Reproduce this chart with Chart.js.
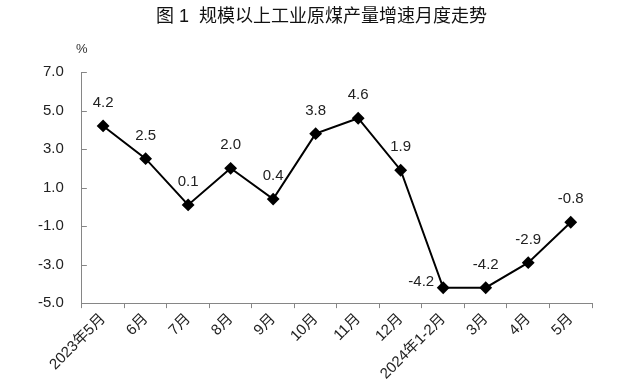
<!DOCTYPE html>
<html>
<head>
<meta charset="utf-8">
<script src="https://cdn.jsdelivr.net/npm/chart.js@4.4.0/dist/chart.umd.min.js"></script>
<style>
  html, body { margin: 0; padding: 0; background: #fff; }
  #wrap { position: relative; width: 643px; height: 385px; }
</style>
</head>
<body>
<div id="wrap"><canvas id="coalChart" width="643" height="385"></canvas></div>
<script>
const chartTitle = '图 1  规模以上工业原煤产量增速月度走势';
const unitLabel = '%';
const months = ['2023年5月', '6月', '7月', '8月', '9月', '10月', '11月', '12月', '2024年1-2月', '3月', '4月', '5月'];
const growth = [4.2, 2.5, 0.1, 2.0, 0.4, 3.8, 4.6, 1.9, -4.2, -4.2, -2.9, -0.8];
const yTicks = [-5.0, -3.0, -1.0, 1.0, 3.0, 5.0, 7.0];
// label placed to the left of the point instead of above
const leftLabels = ['2024年1-2月'];

const fontFamily = '"Liberation Sans", "Noto Sans CJK SC", sans-serif';

const extras = {
    id: 'extras',
    afterDraw(chart) {
        const c = chart.ctx;
        const area = chart.chartArea;
        const y = chart.scales.y;
        c.save();
        // title
        c.fillStyle = '#111';
        c.font = '18px ' + fontFamily;
        c.textAlign = 'center';
        c.textBaseline = 'middle';
        c.fillText(chartTitle, chart.width / 2, 17);
        // unit
        c.font = '13px ' + fontFamily;
        c.fillStyle = '#333';
        c.fillText(unitLabel, area.left, 49);
        // inner ticks on y axis
        c.strokeStyle = '#868686';
        c.lineWidth = 1;
        yTicks.forEach(v => {
            const py = Math.round(y.getPixelForValue(v)) + 0.5;
            c.beginPath();
            c.moveTo(area.left, py);
            c.lineTo(area.left + 5, py);
            c.stroke();
        });
        // data labels
        const meta = chart.getDatasetMeta(0);
        c.font = '15px ' + fontFamily;
        c.fillStyle = '#222';
        meta.data.forEach((pt, i) => {
            const txt = growth[i].toFixed(1);
            if (leftLabels.includes(months[i])) {
                c.textAlign = 'right';
                c.fillText(txt, pt.x - 9, pt.y - 6);
            } else {
                c.textAlign = 'center';
                c.fillText(txt, pt.x, pt.y - 23);
            }
        });
        c.restore();
    }
};

new Chart(document.getElementById('coalChart'), {
    type: 'line',
    data: {
        labels: months,
        datasets: [{
            data: growth,
            borderColor: '#000',
            backgroundColor: '#000',
            borderWidth: 2,
            pointStyle: 'rectRot',
            pointRadius: 5,
            pointHoverRadius: 5,
            tension: 0
        }]
    },
    options: {
        responsive: false,
        animation: false,
        layout: { padding: { top: 72, right: 51, left: 20, bottom: 0 } },
        plugins: {
            legend: { display: false },
            tooltip: { enabled: false }
        },
        scales: {
            x: {
                offset: true,
                grid: {
                    display: true,
                    drawOnChartArea: false,
                    drawTicks: true,
                    tickLength: 5,
                    color: '#868686',
                    offset: true
                },
                border: { color: '#868686', width: 1 },
                ticks: {
                    color: '#222',
                    font: { family: fontFamily, size: 15 },
                    maxRotation: 45,
                    minRotation: 45,
                    autoSkip: false,
                    padding: 2
                }
            },
            y: {
                min: -5,
                max: 7,
                afterBuildTicks: (scale) => {
                    scale.ticks = yTicks.map(v => ({ value: v }));
                },
                grid: { display: false, drawTicks: false },
                border: { color: '#868686', width: 1 },
                ticks: {
                    color: '#222',
                    font: { family: fontFamily, size: 15 },
                    padding: 18,
                    callback: v => v.toFixed(1)
                }
            }
        }
    },
    plugins: [extras]
});
</script>
</body>
</html>
